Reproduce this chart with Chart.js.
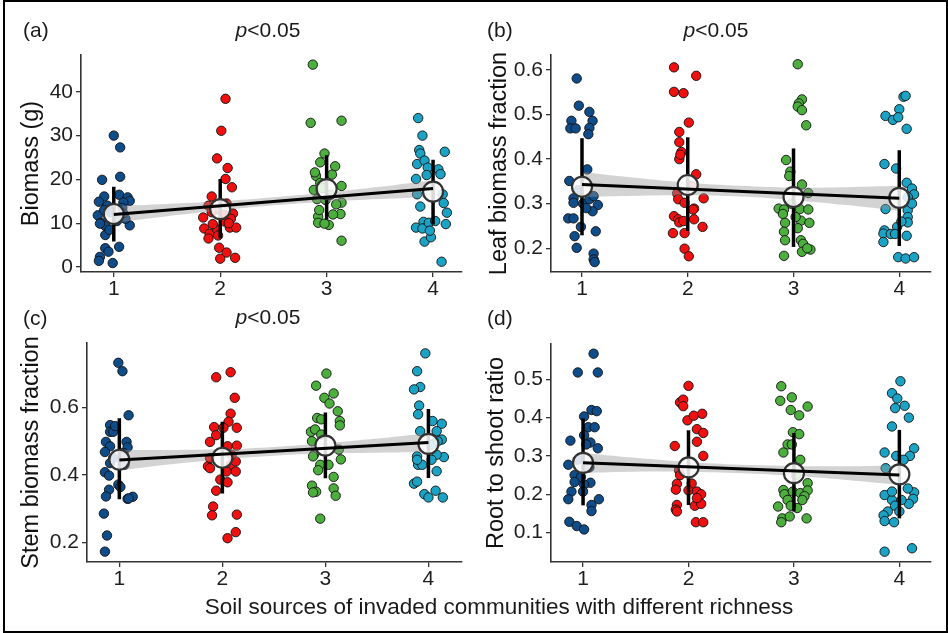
<!DOCTYPE html>
<html>
<head>
<meta charset="utf-8">
<title>Biomass panels</title>
<script src="https://cdn.jsdelivr.net/npm/chart.js@4.4.0/dist/chart.umd.min.js"></script>
<style>
  body { margin: 0; background: #fff; }
  #fig { position: relative; width: 948px; height: 633px; overflow: hidden; background: #fff;
         font-family: "Liberation Sans", Arial, sans-serif; color: #1a1a1a; }
  #frame { position: absolute; left: 3px; top: 0; width: 941px; height: 629px; border: 2px solid #000; z-index: 5; }
  .panel { position: absolute; width: 474px; height: 300px; }
  .lbl { position: absolute; font-size: 21px; line-height: 21px; white-space: nowrap; }
  .mid { transform: translateX(-50%); }
  .xtitle { position: absolute; font-size: 22.5px; line-height: 22px; white-space: nowrap; transform: translateX(-50%); }
</style>
</head>
<body>
<div id="fig">
  <div class="panel" style="left:0;top:0"><canvas id="cA" width="474" height="300"></canvas></div>
  <div class="panel" style="left:474px;top:0"><canvas id="cB" width="474" height="300"></canvas></div>
  <div class="panel" style="left:0;top:300px"><canvas id="cC" width="474" height="300"></canvas></div>
  <div class="panel" style="left:474px;top:300px"><canvas id="cD" width="474" height="300"></canvas></div>

  <div class="lbl" style="left:23px;top:19px">(a)</div>
  <div class="lbl mid" style="left:268px;top:19px"><i>p</i>&lt;0.05</div>
  <div class="lbl" style="left:487px;top:19px">(b)</div>
  <div class="lbl mid" style="left:716px;top:19px"><i>p</i>&lt;0.05</div>
  <div class="lbl" style="left:23px;top:307px">(c)</div>
  <div class="lbl mid" style="left:268px;top:306px"><i>p</i>&lt;0.05</div>
  <div class="lbl" style="left:487px;top:307px">(d)</div>
  <div class="xtitle" style="left:499px;top:596px">Soil sources of invaded communities with different richness</div>
  <div id="frame"></div>
</div>

<script>
// ---- data ----
const categories = [1, 2, 3, 4];
const groupColors = ["#0f4c8a", "#f01010", "#4cae3c", "#1aa3c4"];
const bandX = [1, 1.5, 2, 2.5, 3, 3.5, 4];

// (a) Biomass (g)
const biomassY = [
  [30.0, 27.3, 20.6, 19.9, 16.1, 14.9, 16.5, 15.9, 15.1, 14.7, 11.8, 10.1, 9.4, 9.5, 7.3, 4.6, 4.3, 3.5, 2.3, 1.4, 0.9, 14.0, 12.5, 13.5, 11.0, 13.0, 10.5, 8.5, 12.2, 9.9],
  [38.4, 31.1, 24.8, 22.6, 18.2, 20.1, 16.1, 14.0, 11.3, 12.2, 11.0, 8.8, 7.6, 6.5, 8.6, 10.4, 9.0, 9.0, 4.4, 3.3, 1.9, 2.1, 9.8, 7.2, 13.0, 14.5, 12.0, 12.5, 10.0],
  [46.2, 32.9, 33.4, 25.9, 23.9, 23.0, 20.8, 21.1, 18.5, 17.6, 15.5, 15.3, 14.7, 14.3, 12.1, 12.0, 11.5, 10.1, 9.6, 9.9, 6.0, 19.2, 18.0, 16.5, 13.0, 21.6],
  [34.0, 30.0, 26.3, 26.7, 25.9, 23.5, 24.3, 22.7, 22.3, 21.2, 20.1, 21.0, 16.6, 13.8, 16.6, 14.6, 12.4, 9.8, 10.3, 9.0, 8.8, 10.1, 10.5, 5.8, 6.8, 8.3, 1.2]
];
const biomassJit = [
  [0, 0.06, 0.06, -0.11, -0.09, -0.14, 0.05, 0.13, 0.15, 0.09, -0.15, -0.12, -0.08, 0.15, -0.08, 0.05, -0.08, -0.05, -0.13, -0.14, -0.01, -0.06, -0.03, 0.08, 0.11, -0.09, 0.03, -0.04, 0.09, -0.13],
  [0.05, 0.01, -0.03, 0.07, 0.11, 0.05, -0.08, -0.11, -0.16, 0.12, 0.10, -0.15, -0.10, -0.11, -0.03, 0.04, 0.09, 0.15, -0.01, 0.06, 0, 0.14, -0.07, -0.02, -0.05, 0.06, 0.03, -0.08, 0.08],
  [-0.13, -0.15, 0.14, -0.02, -0.06, 0.08, -0.10, 0.05, 0.14, -0.12, -0.09, -0.01, 0.14, 0.09, 0.13, 0.06, -0.08, -0.08, 0.02, -0.02, 0.14, -0.06, -0.04, 0.04, -0.07, -0.11],
  [-0.14, -0.10, 0.11, -0.13, -0.12, -0.15, -0.08, -0.05, 0.05, 0.07, -0.16, -0.06, -0.15, -0.12, 0.09, 0.10, 0.13, 0.12, -0.09, -0.16, -0.10, -0.04, 0.02, -0.08, -0.02, -0.03, 0.08]
];
const biomassMean = [12.1, 13.2, 17.8, 17.2];
const biomassLo = [5.8, 6.5, 10.8, 9.7];
const biomassHi = [18.3, 20.1, 25.5, 24.5];
const biomassFit = [12.0, 17.9];
const biomassBandLo = [10.1, 11.6, 12.9, 14.1, 14.9, 15.5, 16.0];
const biomassBandHi = [13.9, 14.4, 15.0, 15.9, 17.0, 18.3, 19.8];

// (b) Leaf biomass fraction
const leafY = [
  [0.581, 0.520, 0.506, 0.486, 0.486, 0.469, 0.469, 0.470, 0.456, 0.377, 0.351, 0.312, 0.302, 0.300, 0.310, 0.317, 0.297, 0.283, 0.267, 0.267, 0.248, 0.238, 0.227, 0.201, 0.188, 0.175, 0.169, 0.330, 0.290],
  [0.606, 0.587, 0.551, 0.548, 0.482, 0.461, 0.438, 0.416, 0.400, 0.410, 0.366, 0.323, 0.312, 0.310, 0.302, 0.289, 0.272, 0.265, 0.265, 0.248, 0.234, 0.234, 0.199, 0.182, 0.258, 0.287, 0.261, 0.340],
  [0.613, 0.534, 0.525, 0.518, 0.510, 0.476, 0.398, 0.372, 0.362, 0.343, 0.324, 0.289, 0.287, 0.288, 0.287, 0.277, 0.257, 0.262, 0.257, 0.237, 0.245, 0.218, 0.218, 0.210, 0.192, 0.197, 0.200, 0.183, 0.300, 0.270],
  [0.540, 0.542, 0.512, 0.497, 0.488, 0.494, 0.468, 0.389, 0.379, 0.347, 0.334, 0.321, 0.315, 0.288, 0.285, 0.270, 0.258, 0.240, 0.248, 0.233, 0.232, 0.232, 0.228, 0.214, 0.180, 0.177, 0.180, 0.300, 0.260]
];
const leafJit = [
  [-0.05, -0.03, 0.07, -0.10, 0.10, -0.11, -0.06, 0.07, 0.06, 0.05, -0.12, -0.08, -0.08, 0.01, 0.07, 0.11, 0.15, 0.10, -0.13, -0.08, -0.01, 0.13, -0.07, -0.05, 0.11, 0.11, 0.12, -0.04, 0.04],
  [-0.13, 0.08, -0.13, -0.04, 0.01, -0.08, -0.08, -0.06, -0.08, -0.07, 0.08, -0.10, 0.15, -0.09, -0.03, 0.06, -0.13, -0.09, 0.06, 0.14, -0.14, -0.03, -0.03, 0.01, -0.08, 0.05, -0.04, 0.03],
  [0.04, 0.08, 0.05, 0.04, 0.08, 0.12, -0.07, -0.03, -0.04, 0.08, 0.14, -0.14, -0.09, 0.06, 0.14, -0.10, -0.08, 0.07, 0.15, -0.09, 0.04, 0.07, -0.08, 0.09, 0.08, 0.16, 0.13, -0.09, -0.02, 0.02],
  [0.04, 0.06, 0, -0.13, -0.06, -0.01, 0.07, -0.14, -0.03, 0.07, 0.12, 0.14, 0.08, -0.13, 0.08, 0.08, 0.08, -0.14, -0.02, -0.15, -0.08, -0.04, 0.07, -0.15, -0.01, 0.06, 0.14, 0.12, 0.02]
];
const leafMean = [0.338, 0.342, 0.315, 0.313];
const leafLo = [0.229, 0.239, 0.203, 0.205];
const leafHi = [0.447, 0.449, 0.424, 0.420];
const leafFit = [0.343, 0.312];
const leafBandLo = [0.315, 0.318, 0.319, 0.316, 0.308, 0.297, 0.284];
const leafBandHi = [0.371, 0.358, 0.347, 0.340, 0.336, 0.337, 0.340];

// (c) Stem biomass fraction
const stemY = [
  [0.733, 0.708, 0.577, 0.548, 0.528, 0.528, 0.498, 0.498, 0.485, 0.482, 0.468, 0.435, 0.408, 0.398, 0.430, 0.371, 0.364, 0.356, 0.336, 0.329, 0.335, 0.330, 0.285, 0.220, 0.172, 0.465, 0.450, 0.545],
  [0.705, 0.690, 0.629, 0.582, 0.558, 0.542, 0.540, 0.540, 0.518, 0.498, 0.485, 0.487, 0.426, 0.420, 0.430, 0.440, 0.410, 0.410, 0.386, 0.378, 0.353, 0.306, 0.280, 0.282, 0.230, 0.212, 0.450, 0.460],
  [0.701, 0.665, 0.642, 0.629, 0.612, 0.589, 0.569, 0.560, 0.547, 0.565, 0.528, 0.535, 0.520, 0.500, 0.475, 0.460, 0.446, 0.430, 0.430, 0.414, 0.394, 0.368, 0.350, 0.348, 0.360, 0.338, 0.270, 0.455],
  [0.761, 0.708, 0.661, 0.654, 0.606, 0.580, 0.530, 0.552, 0.560, 0.530, 0.505, 0.490, 0.453, 0.460, 0.445, 0.455, 0.430, 0.430, 0.411, 0.445, 0.374, 0.380, 0.343, 0.333, 0.353, 0.333, 0.500]
];
const stemJit = [
  [-0.01, 0.03, 0.09, -0.09, -0.09, -0.06, -0.13, 0.07, -0.09, 0.08, -0.14, -0.09, -0.14, -0.10, 0.05, -0.01, 0.01, -0.10, -0.13, 0.08, 0.13, 0.09, -0.15, -0.12, -0.14, 0.04, -0.06, -0.04],
  [0.08, -0.06, 0.12, 0.08, 0.06, -0.08, 0.14, 0.01, -0.06, -0.12, 0.05, 0.14, -0.14, -0.12, 0.08, 0.13, 0.13, 0.04, -0.02, 0.05, -0.06, -0.09, -0.10, 0.14, 0.13, 0.05, -0.12, 0.09],
  [0.01, -0.09, 0.08, -0.01, 0.04, 0.12, -0.08, 0.14, 0.14, -0.04, -0.14, -0.10, -0.04, -0.13, 0.13, -0.11, 0.15, 0.03, -0.05, -0.07, 0.08, -0.13, -0.09, -0.12, 0.08, 0.10, -0.05, -0.12],
  [-0.03, -0.11, -0.08, -0.14, -0.09, -0.10, -0.08, 0.13, 0.04, 0.08, 0.13, 0.03, 0.15, 0.08, 0.03, -0.11, -0.10, -0.06, 0.08, -0.11, -0.14, -0.11, -0.04, 0, 0.07, 0.14, 0.09]
];
const stemMean = [0.445, 0.451, 0.487, 0.492];
const stemLo = [0.328, 0.345, 0.390, 0.391];
const stemHi = [0.568, 0.558, 0.585, 0.596];
const stemFit = [0.444, 0.496];
const stemBandLo = [0.414, 0.432, 0.446, 0.457, 0.464, 0.466, 0.468];
const stemBandHi = [0.474, 0.474, 0.476, 0.483, 0.494, 0.508, 0.524];

// (d) Root to shoot ratio
const rootY = [
  [0.567, 0.518, 0.518, 0.420, 0.417, 0.403, 0.375, 0.375, 0.354, 0.340, 0.335, 0.320, 0.330, 0.277, 0.250, 0.245, 0.232, 0.230, 0.225, 0.207, 0.207, 0.187, 0.187, 0.172, 0.156, 0.128, 0.117, 0.108, 0.290, 0.270],
  [0.483, 0.440, 0.447, 0.430, 0.393, 0.405, 0.410, 0.370, 0.360, 0.337, 0.326, 0.300, 0.263, 0.227, 0.228, 0.212, 0.210, 0.207, 0.200, 0.172, 0.160, 0.155, 0.170, 0.175, 0.127, 0.127, 0.190, 0.250],
  [0.482, 0.444, 0.453, 0.429, 0.420, 0.406, 0.362, 0.357, 0.330, 0.309, 0.330, 0.290, 0.229, 0.211, 0.200, 0.207, 0.203, 0.210, 0.195, 0.185, 0.185, 0.168, 0.164, 0.137, 0.142, 0.137, 0.127, 0.170, 0.250],
  [0.495, 0.464, 0.450, 0.431, 0.425, 0.400, 0.377, 0.320, 0.309, 0.300, 0.300, 0.290, 0.268, 0.198, 0.185, 0.205, 0.188, 0.175, 0.185, 0.170, 0.155, 0.145, 0.155, 0.130, 0.127, 0.050, 0.059, 0.207, 0.215]
];
const rootJit = [
  [0.10, -0.05, 0.14, 0.08, 0.13, 0.01, 0.05, 0.11, 0.01, -0.12, 0.07, 0.14, 0.03, -0.14, -0.08, -0.02, -0.08, 0.07, 0.01, -0.11, 0, -0.14, 0.15, 0.08, 0.08, -0.13, -0.06, 0.01, -0.05, 0.06],
  [0, -0.08, -0.05, -0.05, -0.01, 0.05, 0.13, 0.08, 0.14, 0.08, -0.13, 0.14, -0.09, -0.11, 0.03, -0.12, 0, 0.08, 0.12, -0.11, -0.12, -0.11, 0.06, 0.12, 0.07, 0.14, 0.08, -0.08],
  [-0.12, -0.13, -0.02, 0.13, -0.03, 0.05, -0.01, 0.05, -0.06, -0.10, -0.02, 0.06, 0.13, -0.10, -0.09, -0.01, 0.06, 0.13, 0.10, 0.08, -0.06, -0.15, 0.03, -0.11, -0.04, 0.12, -0.12, -0.03, 0.02],
  [0.01, -0.07, -0.02, 0.05, -0.04, 0.09, -0.07, 0.14, -0.14, -0.03, 0.10, 0.04, -0.13, -0.14, -0.07, 0.14, 0.13, 0.09, 0.02, -0.04, -0.11, -0.15, 0, -0.14, -0.05, -0.14, 0.12, -0.07, 0.08]
];
const rootMean = [0.282, 0.270, 0.255, 0.252];
const rootLo = [0.171, 0.172, 0.155, 0.137];
const rootHi = [0.398, 0.367, 0.360, 0.368];
const rootFit = [0.282, 0.250];
const rootBandLo = [0.256, 0.259, 0.258, 0.255, 0.248, 0.237, 0.224];
const rootBandHi = [0.308, 0.295, 0.284, 0.277, 0.274, 0.273, 0.276];

const FONT = "'Liberation Sans', Arial, sans-serif";

function makePanel(id, p) {
  const datasets = [];

  // raw points, jittered around each category
  p.ys.forEach((ys, g) => {
    datasets.push({
      type: "scatter",
      data: ys.map((y, i) => ({ x: categories[g] + p.jit[g][i], y: y })),
      backgroundColor: groupColors[g],
      borderColor: "#111",
      borderWidth: 0.9,
      pointRadius: 4.7,
      order: 6,
    });
  });

  // confidence band of the linear fit
  datasets.push({
    type: "line",
    data: bandX.map((x, i) => ({ x: x, y: p.bandLo[i] })),
    borderWidth: 0, pointRadius: 0, tension: 0.4, fill: false, order: 5,
  });
  datasets.push({
    type: "line",
    data: bandX.map((x, i) => ({ x: x, y: p.bandHi[i] })),
    borderWidth: 0, pointRadius: 0, tension: 0.4,
    fill: "-1", backgroundColor: "rgba(150,150,150,0.42)", order: 5,
  });

  // mean +- sd bars
  categories.forEach((c, g) => {
    datasets.push({
      type: "line",
      data: [{ x: c, y: p.lo[g] }, { x: c, y: p.hi[g] }],
      borderColor: "#000", borderWidth: 3.5, pointRadius: 0, order: 4,
    });
  });

  // group means
  datasets.push({
    type: "scatter",
    data: categories.map((c, g) => ({ x: c, y: p.mean[g] })),
    backgroundColor: "rgba(255,255,255,0.85)",
    borderColor: "#333",
    borderWidth: 2.2,
    pointRadius: 10,
    order: 3,
  });

  // fitted line
  datasets.push({
    type: "line",
    data: [{ x: categories[0], y: p.fit[0] }, { x: categories[3], y: p.fit[1] }],
    borderColor: "#000", borderWidth: 3, pointRadius: 0, order: 1,
  });

  new Chart(document.getElementById(id), {
    type: "scatter",
    data: { datasets },
    options: {
      responsive: false,
      animation: false,
      layout: { padding: { left: 0, top: p.padTop, right: p.padRight, bottom: 0 } },
      plugins: { legend: { display: false }, tooltip: { enabled: false } },
      scales: {
        x: {
          type: "linear",
          min: p.xMin, max: p.xMax,
          afterBuildTicks: (s) => { s.ticks = categories.map((v) => ({ value: v })); },
          afterFit: (s) => { s.height = p.xH; },
          grid: { drawOnChartArea: false, drawTicks: true, tickLength: 5, color: "#333", lineWidth: 1.3 },
          border: { display: true, color: "#333", width: 1.6 },
          ticks: { color: "#1e1e1e", font: { size: 21, family: FONT }, padding: 0, autoSkip: false, maxRotation: 0,
                   callback: (v) => String(v) },
        },
        y: {
          type: "linear",
          min: p.yMin, max: p.yMax,
          afterBuildTicks: (s) => { s.ticks = p.yTicks.map((v) => ({ value: v })); },
          afterFit: (s) => { s.width = p.yW; },
          grid: { drawOnChartArea: false, drawTicks: true, tickLength: 5, color: "#333", lineWidth: 1.3 },
          border: { display: true, color: "#333", width: 1.6 },
          ticks: { color: "#1e1e1e", font: { size: 21, family: FONT }, padding: 3, autoSkip: false,
                   callback: (v, i) => p.yLabels[i] },
          title: { display: true, text: p.yTitle, color: "#111", font: { size: 23.5, family: FONT },
                   padding: { top: p.titlePad, bottom: 0 } },
        },
      },
    },
  });
}

makePanel("cA", {
  ys: biomassY, jit: biomassJit, mean: biomassMean, lo: biomassLo, hi: biomassHi,
  fit: biomassFit, bandLo: biomassBandLo, bandHi: biomassBandHi,
  xMin: 0.692, xMax: 4.27, yMin: -1.14, yMax: 48.4,
  yTicks: [0, 10, 20, 30, 40], yLabels: ["0", "10", "20", "30", "40"],
  yTitle: "Biomass (g)", yW: 81, xH: 28, padTop: 55, padRight: 9, titlePad: 17,
});
makePanel("cB", {
  ys: leafY, jit: leafJit, mean: leafMean, lo: leafLo, hi: leafHi,
  fit: leafFit, bandLo: leafBandLo, bandHi: leafBandHi,
  xMin: 0.707, xMax: 4.30, yMin: 0.1467, yMax: 0.6337,
  yTicks: [0.2, 0.3, 0.4, 0.5, 0.6], yLabels: ["0.2", "0.3", "0.4", "0.5", "0.6"],
  yTitle: "Leaf biomass fraction", yW: 77, xH: 28, padTop: 55, padRight: 17, titlePad: 11,
});
makePanel("cC", {
  ys: stemY, jit: stemJit, mean: stemMean, lo: stemLo, hi: stemHi,
  fit: stemFit, bandLo: stemBandLo, bandHi: stemBandHi,
  xMin: 0.686, xMax: 4.324, yMin: 0.1413, yMax: 0.7918,
  yTicks: [0.2, 0.4, 0.6], yLabels: ["0.2", "0.4", "0.6"],
  yTitle: "Stem biomass fraction", yW: 87, xH: 38, padTop: 43, padRight: 5, titlePad: 17,
});
makePanel("cD", {
  ys: rootY, jit: rootJit, mean: rootMean, lo: rootLo, hi: rootHi,
  fit: rootFit, bandLo: rootBandLo, bandHi: rootBandHi,
  xMin: 0.696, xMax: 4.30, yMin: 0.0231, yMax: 0.5923,
  yTicks: [0.1, 0.2, 0.3, 0.4, 0.5], yLabels: ["0.1", "0.2", "0.3", "0.4", "0.5"],
  yTitle: "Root to shoot ratio", yW: 77, xH: 38, padTop: 44, padRight: 17, titlePad: 8,
});
</script>
</body>
</html>
